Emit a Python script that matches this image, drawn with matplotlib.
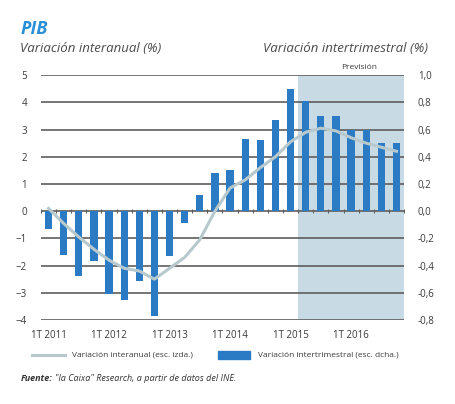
import numpy as np
from matplotlib import pyplot as plt
from matplotlib.ticker import FuncFormatter

plt.rcParams['font.family'] = ['Open Sans', 'DejaVu Sans']

# quarterly data 1T 2011 - 4T 2016
quarters = ['1T 2011', '2T 2011', '3T 2011', '4T 2011', '1T 2012', '2T 2012', '3T 2012', '4T 2012',
            '1T 2013', '2T 2013', '3T 2013', '4T 2013', '1T 2014', '2T 2014', '3T 2014', '4T 2014',
            '1T 2015', '2T 2015', '3T 2015', '4T 2015', '1T 2016', '2T 2016', '3T 2016', '4T 2016']
interanual = [0.1, -0.45, -0.95, -1.4, -1.8, -2.1, -2.2, -2.5, -2.1, -1.7, -1.05, 0.0,
              0.85, 1.15, 1.6, 2.0, 2.55, 2.9, 3.05, 2.95, 2.7, 2.5, 2.35, 2.2]
intertrimestral = [-0.13, -0.32, -0.48, -0.37, -0.61, -0.65, -0.51, -0.77,
                   -0.33, -0.09, 0.12, 0.28, 0.30, 0.53, 0.52, 0.67,
                   0.90, 0.81, 0.70, 0.70, 0.60, 0.60, 0.50, 0.50]
tick_labels = ['1T 2011', '1T 2012', '1T 2013', '1T 2014', '1T 2015', '1T 2016']
forecast_start = '2T 2015'

bar_col = '#2b7bc4'
line_col = '#b7c9cd'

fig = plt.figure(figsize=(4.55, 4.04), dpi=100)
ax = fig.add_axes([0.09, 0.208, 0.798, 0.606])
ax2 = ax.twinx()
x = np.arange(len(quarters))

# bars (right scale)
fs = quarters.index(forecast_start)
ax.axvspan(fs - 0.5, len(quarters) - 0.5, color='#c8dbe4', zorder=0, lw=0)
for v in np.arange(-0.8, 1.01, 0.2):
    ax.axhline(v, color='#5e5e5e', lw=1.2, zorder=1)
ax.bar(x, intertrimestral, width=0.48, color=bar_col, zorder=3)
ax.plot(np.arange(len(quarters) + 1) - 0.5, np.zeros(len(quarters) + 1), '|',
        color='#5e5e5e', ms=3, mew=0.8, zorder=2)
ax.set_ylim(-0.8, 1.0)
ax.set_xlim(-0.5, len(quarters) - 0.5)
ax.set_yticks(np.arange(-0.8, 1.01, 0.2))
ax.yaxis.set_major_formatter(FuncFormatter(lambda v, p: f'{v:.1f}'.replace('.', ',').replace('-0,0', '0,0')))
ax.set_xticks([quarters.index(t) for t in tick_labels])
ax.set_xticklabels(tick_labels)
ax.tick_params(length=0, labelsize=7, colors='#3a3a3a', pad=7)
ax.tick_params(axis='y', pad=10)
for s in ax.spines.values():
    s.set_visible(False)

# line (left scale)
ax2.plot(x, interanual, color=line_col, lw=2.2, zorder=4)
ax2.set_ylim(-4, 5)
ax2.set_yticks(range(-4, 6))
ax2.tick_params(length=0, labelsize=7, colors='#3a3a3a', pad=10)
for s in ax2.spines.values():
    s.set_visible(False)
ax.yaxis.tick_right()
ax2.yaxis.tick_left()

ax.text(20.5, 1.03, 'Previsión', fontsize=6, color='#3a3a3a', ha='center', va='bottom')

fig.text(0.045, 0.915, 'PIB', fontsize=13, fontweight='bold', style='italic', color='#2a8fd6')
fig.text(0.045, 0.872, 'Variación interanual (%)', fontsize=9.5, style='italic', color='#4a4a4a')
fig.text(0.94, 0.872, 'Variación intertrimestral (%)', fontsize=9.5, style='italic', color='#4a4a4a', ha='right')

# legend
lx = fig.add_axes([0.0, 0.097, 1.0, 0.05])
lx.set_xlim(0, 455)
lx.set_ylim(0, 1)
lx.axis('off')
lx.plot([32, 65], [0.5, 0.5], color=line_col, lw=2.2)
lx.text(72, 0.5, 'Variación interanual (esc. izda.)', fontsize=6, color='#3a3a3a', va='center')
lx.add_patch(plt.Rectangle((218, 0.3), 32, 0.4, color=bar_col))
lx.text(258, 0.5, 'Variación intertrimestral (esc. dcha.)', fontsize=6, color='#3a3a3a', va='center')

src = fig.text(0.045, 0.058, 'Fuente:', fontsize=6.5, fontweight='bold', style='italic', color='#333333')
fig.canvas.draw()
bb = src.get_window_extent().transformed(fig.transFigure.inverted())
fig.text(bb.x1 + 0.006, 0.058, '"la Caixa" Research, a partir de datos del INE.', fontsize=6.5,
         style='italic', color='#333333')

fig.savefig('out.png', dpi=100, facecolor='white')
